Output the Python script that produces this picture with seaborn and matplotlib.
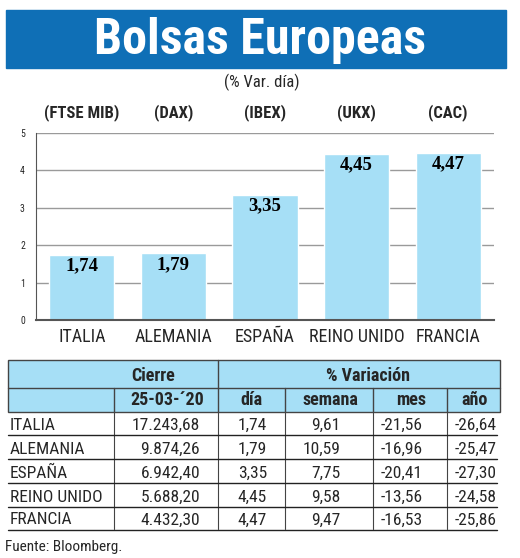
import matplotlib
matplotlib.use("Agg")
import matplotlib.pyplot as plt
import seaborn as sns
import pandas as pd
from matplotlib import font_manager as fm
from matplotlib.patches import Rectangle

# data
paises = ["ITALIA", "ALEMANIA", "ESPAÑA", "REINO UNIDO", "FRANCIA"]
indices = ["(FTSE MIB)", "(DAX)", "(IBEX)", "(UKX)", "(CAC)"]
var_dia = [1.74, 1.79, 3.35, 4.45, 4.47]
cierre = ["17.243,68", "9.874,26", "6.942,40", "5.688,20", "4.432,30"]
dia_txt = ["1,74", "1,79", "3,35", "4,45", "4,47"]
semana = ["9,61", "10,59", "7,75", "9,58", "9,47"]
mes = ["-21,56", "-16,96", "-20,41", "-13,56", "-16,53"]
anio = ["-26,64", "-25,47", "-27,30", "-24,58", "-25,86"]
yticks = [0, 1, 2, 3, 4, 5]

df = pd.DataFrame({"pais": paises, "valor": var_dia})


def pick(names):
    for n in names:
        try:
            fm.findfont(fm.FontProperties(family=n), fallback_to_default=False)
            return n
        except ValueError:
            pass
    return "DejaVu Sans"


narrow = pick(["Liberation Sans Narrow", "Roboto Condensed", "DejaVu Sans"])
serif = pick(["Liberation Serif", "DejaVu Serif"])

sns.set_style("white")
plt.rcParams["font.family"] = [narrow, "DejaVu Sans"]

BLUE = "#0f6fb6"
LIGHT = "#a6dff6"

fig = plt.figure(figsize=(5.2, 5.58), dpi=100)

# overlay in pixel coords for title, table, texts
ov = fig.add_axes([0, 0, 1, 1])
ov.set_xlim(0, 520)
ov.set_ylim(558, 0)
ov.axis("off")

ov.add_patch(Rectangle((6, 10), 500, 58, color=BLUE))
ov.text(260, 40, "Bolsas Europeas", color="white", fontsize=36, fontweight="bold",
        ha="center", va="center")
ov.text(262, 82, "(% Var. día)", fontsize=12, ha="center", va="center")

# bar chart
ax = fig.add_axes([36 / 520, 1 - 320 / 558, 458 / 520, 187 / 558])
ax.set_axisbelow(True)
sns.barplot(data=df, x="pais", y="valor", color=LIGHT, width=0.71, saturation=1, ax=ax)
ax.set_xlim(-0.5, 4.5)
ax.set_ylim(0, 5)
ax.set_yticks(yticks)
ax.set_yticklabels([str(t) for t in yticks], fontsize=7)
ax.yaxis.grid(True, color="#9a9a9a", lw=1)
ax.tick_params(axis="x", length=0, labelsize=13, pad=6)
ax.tick_params(axis="y", length=0, pad=8)
ax.set_xlabel("")
ax.set_ylabel("")
for s in ["top", "right"]:
    ax.spines[s].set_visible(False)
ax.spines["left"].set_color("#555555")
ax.spines["bottom"].set_color("#555555")
ax.spines["bottom"].set_linewidth(1.5)
for i, v in enumerate(var_dia):
    ax.text(i, v - 0.3, f"{v:.2f}".replace(".", ","), ha="center", va="center",
            fontsize=13.5, fontweight="bold", family=serif, color="black")
    ax.text(i, 5.55, indices[i], ha="center", va="center", fontsize=12,
            fontweight="bold", clip_on=False)

# table
ov.add_patch(Rectangle((8, 360), 492, 52, facecolor=LIGHT, edgecolor="#444444", lw=1))
ov.plot([8, 500], [388, 388], color="#444444", lw=1)
ov.plot([218, 218], [360, 412], color="#444444", lw=1)
for x in [114, 285, 373, 447]:
    ov.plot([x, x], [388, 412], color="#444444", lw=1)
for x in [114, 218, 285, 373, 447]:
    ov.plot([x, x], [412, 529], color="#444444", lw=0.8)

ov.text(153, 376, "Cierre", fontsize=13, fontweight="bold", ha="center", va="center")
ov.text(368, 376, "% Variación", fontsize=13, fontweight="bold", ha="center", va="center")
for x, t in zip([167, 251, 330, 411, 475], ["25-03-´20", "día", "semana", "mes", "año"]):
    ov.text(x, 400, t, fontsize=13, fontweight="bold", ha="center", va="center")

row_y = [425, 449, 473, 497, 520]
for i, y in enumerate(row_y):
    ov.text(10, y, paises[i], fontsize=12.5, ha="left", va="center")
    ov.text(200, y, cierre[i], fontsize=12.5, ha="right", va="center")
    ov.text(267, y, dia_txt[i], fontsize=12.5, ha="right", va="center")
    ov.text(340, y, semana[i], fontsize=12.5, ha="right", va="center")
    ov.text(423, y, mes[i], fontsize=12.5, ha="right", va="center")
    ov.text(497, y, anio[i], fontsize=12.5, ha="right", va="center")
    ov.plot([8, 497], [y + 9.5, y + 9.5], color="#222222", lw=1)

ov.text(5, 547, "Fuente: Bloomberg.", fontsize=11, ha="left", va="center")

fig.savefig("out.png", dpi=100)
